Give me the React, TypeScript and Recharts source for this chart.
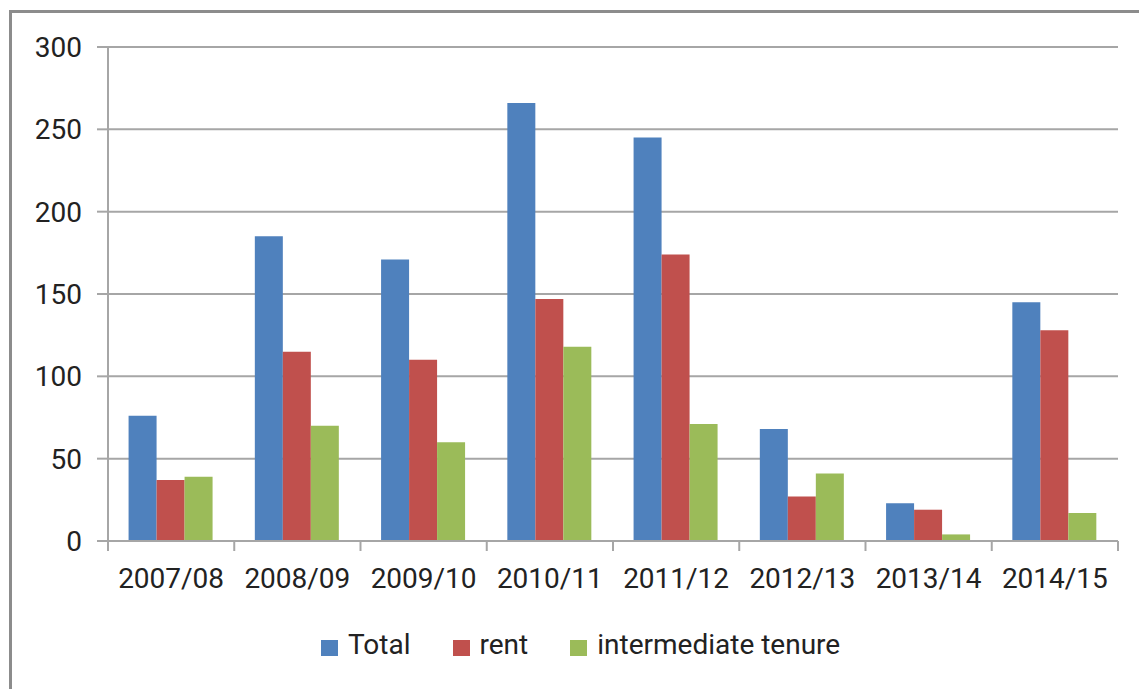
import React from 'react';
import { BarChart, Bar, XAxis, YAxis, CartesianGrid, Legend } from 'recharts';

const categories = ['2007/08', '2008/09', '2009/10', '2010/11', '2011/12', '2012/13', '2013/14', '2014/15'];
const totalValues = [76, 185, 171, 266, 245, 68, 23, 145];
const rentValues = [37, 115, 110, 147, 174, 27, 19, 128];
const intermediateValues = [39, 70, 60, 118, 71, 41, 4, 17];
const yTicks = [0, 50, 100, 150, 200, 250, 300];

const seriesNames = ['Total', 'rent', 'intermediate tenure'];
const seriesColors = ['#4F81BD', '#C0504D', '#9BBB59'];

const data = categories.map((c, i) => ({
  cat: c,
  total: totalValues[i],
  rent: rentValues[i],
  inter: intermediateValues[i],
}));

const W = 1139;
const H = 689;
const Y_AXIS_W = 108;
const M_RIGHT = 21;
const PLOT_W = W - Y_AXIS_W - M_RIGHT;
const FONT = 'Roboto, "Open Sans", sans-serif';
const TEXT = '#222222';
const GRID = '#a6a6a6';

const XTick = (props: any) => {
  const { x, y, payload, index, visibleTicksCount } = props;
  const n = visibleTicksCount || categories.length;
  const band = PLOT_W / n;
  return (
    <g>
      <line x1={x - band / 2} x2={x - band / 2} y1={y} y2={y + 10} stroke={GRID} strokeWidth={2} />
      {index === n - 1 && (
        <line x1={x + band / 2} x2={x + band / 2} y1={y} y2={y + 10} stroke={GRID} strokeWidth={2} />
      )}
      <text x={x} y={y + 47} textAnchor="middle" fill={TEXT} fontFamily={FONT} fontSize={28}>
        {payload.value}
      </text>
    </g>
  );
};

const LegendContent = () => (
  <div style={{ display: 'flex', alignItems: 'center', fontFamily: FONT, fontSize: 28, color: TEXT, lineHeight: '32px', whiteSpace: 'nowrap' }}>
    {seriesNames.map((name, i) => (
      <div key={name} style={{ display: 'flex', alignItems: 'center', marginRight: i < seriesNames.length - 1 ? 42 : 0 }}>
        <span style={{ display: 'inline-block', width: 17, height: 16, background: seriesColors[i], marginRight: 10, marginTop: 6 }} />
        <span>{name}</span>
      </div>
    ))}
  </div>
);

export default function App() {
  return (
    <div style={{ position: 'absolute', left: 0, top: 0, width: W, height: H, background: '#fff' }}>
      <div style={{ position: 'absolute', left: 9, top: 10, width: W - 9, height: H - 10, borderLeft: '3px solid #8c8c8c', borderTop: '3px solid #8c8c8c', boxSizing: 'border-box' }} />
      <div style={{ position: 'absolute', left: 0, top: 0 }}>
        <BarChart
          width={W}
          height={H}
          data={data}
          margin={{ top: 47, right: M_RIGHT, left: 0, bottom: 88 }}
          barCategoryGap="16.3%"
          barGap={0}
        >
          <CartesianGrid vertical={false} stroke={GRID} strokeWidth={2} />
          <XAxis
            dataKey="cat"
            height={60}
            tickSize={0}
            tickMargin={0}
            tickLine={false}
            axisLine={{ stroke: GRID, strokeWidth: 2 }}
            tick={<XTick />}
            interval={0}
          />
          <YAxis
            width={Y_AXIS_W}
            domain={[0, 300]}
            ticks={yTicks}
            tickSize={11}
            tickMargin={15}
            tickLine={{ stroke: GRID, strokeWidth: 2 }}
            axisLine={{ stroke: GRID, strokeWidth: 2 }}
            tick={{ fill: TEXT, fontFamily: FONT, fontSize: 28 }}
            interval={0}
          />
          <Legend
            layout="horizontal"
            verticalAlign="middle"
            align="center"
            content={<LegendContent />}
            wrapperStyle={{ top: 629, left: 321, width: 'auto', height: 'auto' }}
          />
          <Bar dataKey="total" name={seriesNames[0]} fill={seriesColors[0]} isAnimationActive={false} />
          <Bar dataKey="rent" name={seriesNames[1]} fill={seriesColors[1]} isAnimationActive={false} />
          <Bar dataKey="inter" name={seriesNames[2]} fill={seriesColors[2]} isAnimationActive={false} />
        </BarChart>
      </div>
    </div>
  );
}
